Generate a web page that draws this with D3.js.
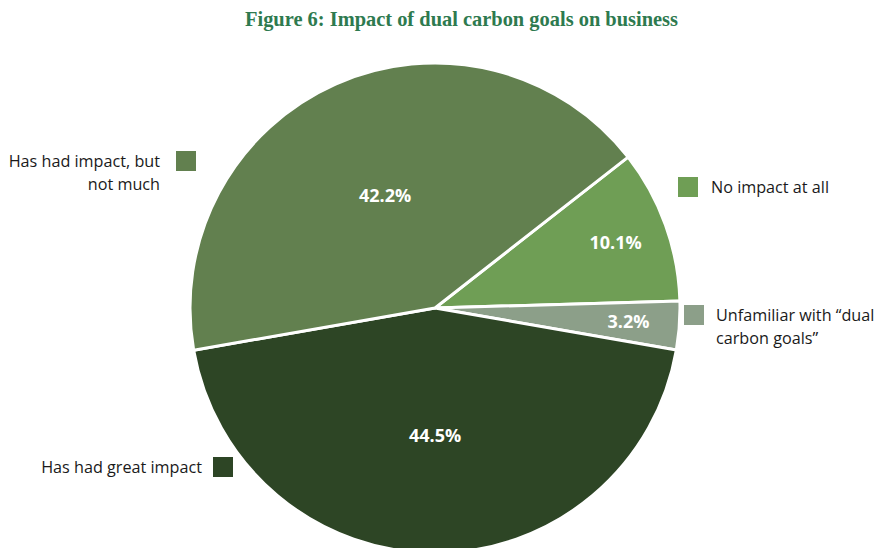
<!DOCTYPE html>
<html>
<head>
<meta charset="utf-8">
<script src="https://cdn.jsdelivr.net/npm/d3@7"></script>
<style>
  html, body { margin: 0; padding: 0; background: #ffffff; }
  svg { display: block; }
</style>
</head>
<body>
<svg id="chart" width="886" height="548"></svg>
<script>
// Survey responses, in drawing order (clockwise)
const categories = [
  "No impact at all",
  "Unfamiliar with \u201cdual carbon goals\u201d",
  "Has had great impact",
  "Has had impact, but not much"
];
const shares = [10.1, 3.2, 44.5, 42.2];
const colors = ["#6f9e55", "#8c9f89", "#2d4525", "#62804f"];

// Legend lines per category
const legendLines = [
  ["No impact at all"],
  ["Unfamiliar with \u201cdual", "carbon goals\u201d"],
  ["Has had great impact"],
  ["Has had impact, but", "not much"]
];

const svg = d3.select("#chart");

// Title
svg.append("text")
  .attr("x", 461.5)
  .attr("y", 26)
  .attr("text-anchor", "middle")
  .attr("font-family", "'Liberation Serif', 'DejaVu Serif', serif")
  .attr("font-weight", "bold")
  .attr("font-size", 21.5)
  .attr("fill", "#2e7a4f")
  .attr("textLength", 433)
  .attr("lengthAdjust", "spacingAndGlyphs")
  .text("Figure 6: Impact of dual carbon goals on business");

const cx = 435, cy = 308, R = 245;
const startDeg = 52;

const pie = d3.pie()
  .sort(null)
  .value(d => d)
  .startAngle(startDeg * Math.PI / 180)
  .endAngle((startDeg + 360) * Math.PI / 180);

const arcs = pie(shares);
const arc = d3.arc().innerRadius(0).outerRadius(R);

const g = svg.append("g").attr("transform", `translate(${cx},${cy})`);

g.selectAll("path")
  .data(arcs)
  .join("path")
  .attr("d", arc)
  .attr("fill", (d, i) => colors[i])
  .attr("stroke", "#ffffff")
  .attr("stroke-width", 3)
  .attr("stroke-linejoin", "round");

// Value labels: small slices sit near the rim, large ones nearer the centre
const labelRadius = [192, 194, 128, 123];
g.selectAll("text.val")
  .data(arcs)
  .join("text")
  .attr("class", "val")
  .attr("transform", (d, i) => {
    const a = (d.startAngle + d.endAngle) / 2;
    const r = labelRadius[i];
    return `translate(${r * Math.sin(a)},${-r * Math.cos(a)})`;
  })
  .attr("dy", "0.35em")
  .attr("text-anchor", "middle")
  .attr("font-family", "'Open Sans', 'Noto Sans', sans-serif")
  .attr("font-weight", "bold")
  .attr("font-size", 18)
  .attr("fill", "#ffffff")
  .text(d => d3.format(".1f")(d.data) + "%");

// Legend entries placed around the pie
const legendPos = [
  { sx: 678, sy: 177, tx: 711, ty: 193, anchor: "start" },
  { sx: 684, sy: 305, tx: 716, ty: 321, anchor: "start" },
  { sx: 213, sy: 457, tx: 202, ty: 473, anchor: "end" },
  { sx: 176, sy: 151, tx: 160, ty: 167, anchor: "end" }
];

const leg = svg.append("g");
categories.forEach((c, i) => {
  const p = legendPos[i];
  leg.append("rect")
    .attr("x", p.sx).attr("y", p.sy)
    .attr("width", 20).attr("height", 20)
    .attr("fill", colors[i]);
  const t = leg.append("text")
    .attr("x", p.tx).attr("y", p.ty)
    .attr("text-anchor", p.anchor)
    .attr("font-family", "'Open Sans', 'Noto Sans', sans-serif")
    .attr("font-size", 16.2)
    .attr("fill", "#1a1a1a");
  legendLines[i].forEach((line, j) => {
    t.append("tspan")
      .attr("x", p.tx)
      .attr("dy", j === 0 ? 0 : 23)
      .text(line);
  });
});
</script>
</body>
</html>
